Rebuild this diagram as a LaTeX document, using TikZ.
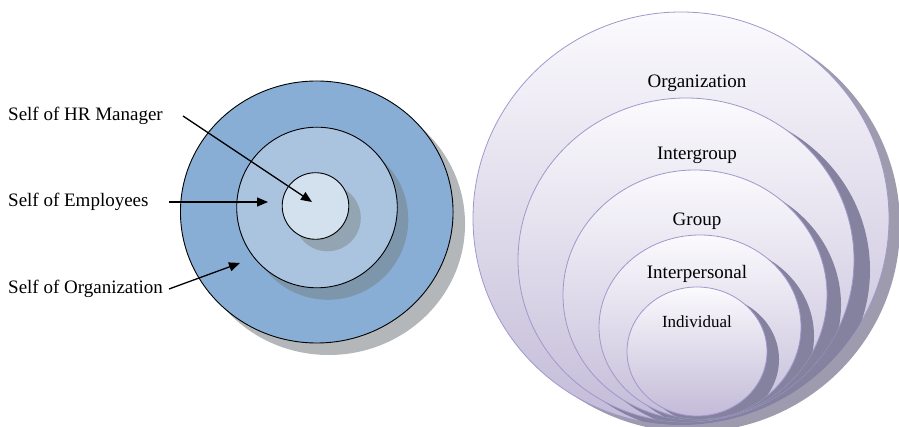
\documentclass[tikz,border=0pt]{standalone}
\usepackage{fontspec}
\setmainfont{Liberation Serif}
\usetikzlibrary{arrows.meta}
\definecolor{bOuter}{HTML}{88AED6}
\definecolor{bMid}{HTML}{AAC4DF}
\definecolor{bIn}{HTML}{D3E0EE}
\definecolor{sOuter}{HTML}{B4B7BA}
\definecolor{sMid}{HTML}{7E96AC}
\definecolor{sIn}{HTML}{93A5B3}
\definecolor{ringTop}{HTML}{FBFAFD}
\definecolor{ringBot}{HTML}{C3BBD8}
\definecolor{ringLine}{HTML}{A098CC}
\definecolor{cresc}{HTML}{84829E}
\definecolor{outShadow}{HTML}{9D9BAD}
\tikzset{
  lbl/.style={inner sep=0pt, font=\fontsize{19}{22}\selectfont},
  rlbl/.style={inner sep=0pt, anchor=base, font=\fontsize{19}{22}\selectfont},
  ptr/.style={line width=1.3pt, -{Triangle[length=11pt,width=9pt]}},
  bluering/.style={draw=black, line width=0.9pt},
  ring/.style={top color=ringTop, bottom color=ringBot, draw=ringLine, line width=0.8pt},
}
\begin{document}
\begin{tikzpicture}[x=1pt,y=-1pt]
\useasboundingbox (0,0) rectangle (899,427);
\clip (0,0) rectangle (899,427);
% ---------- left diagram ----------
\fill[sOuter] (328.75,224) ellipse [x radius=136.3pt, y radius=131pt];
\fill[bOuter] (316.75,212) ellipse [x radius=136.3pt, y radius=131pt];
\draw[bluering] (316.75,212) ellipse [x radius=136.3pt, y radius=131pt];
\begin{scope}
\clip (316.75,212) ellipse [x radius=136.3pt, y radius=131pt];
\fill[sMid] (328,219.5) circle [radius=80.3pt];
\end{scope}
\fill[bMid] (317,207.5) circle [radius=80.3pt];
\draw[bluering] (317,207.5) circle [radius=80.3pt];
\begin{scope}
\clip (317,207.5) circle [radius=80.3pt];
\fill[sIn] (327.5,218) circle [radius=33.3pt];
\end{scope}
\fill[bIn] (315.5,206) circle [radius=33.3pt];
\draw[bluering] (315.5,206) circle [radius=33.3pt];

\node[lbl, anchor=base west] (hr) at (8,121) {Self of HR Manager};
\node[lbl, anchor=base west] (emp) at (8,207) {Self of Employees};
\node[lbl, anchor=base west] (org) at (8,294) {Self of Organization};
\coordinate (hrS) at (183,116);
\coordinate (hrE) at (312,202);
\coordinate (empS) at (169,202);
\coordinate (empE) at (268,202);
\coordinate (orgS) at (169,289);
\coordinate (orgE) at (240,263);
\draw[ptr] (hrS) -- (hrE);
\draw[ptr] (empS) -- (empE);
\draw[ptr] (orgS) -- (orgE);

% ---------- right diagram ----------
\fill[outShadow] (692,225.5) ellipse [x radius=208pt, y radius=206.5pt];
\path[ring] (681,218.5) ellipse [x radius=208pt, y radius=206.5pt];
% Intergroup
\begin{scope}
\clip (681,218.5) ellipse [x radius=208pt, y radius=206.5pt];
\fill[cresc] (702,270) ellipse [x radius=168pt, y radius=162pt];
\end{scope}
\path[ring] (686,260) ellipse [x radius=168pt, y radius=162pt];
% Group
\begin{scope}
\clip (686,260) ellipse [x radius=168pt, y radius=162pt];
\fill[cresc] (709,305) ellipse [x radius=132pt, y radius=125pt];
\end{scope}
\path[ring] (695,295) ellipse [x radius=132pt, y radius=125pt];
% Interpersonal
\begin{scope}
\clip (695,295) ellipse [x radius=132pt, y radius=125pt];
\fill[cresc] (713,336) ellipse [x radius=101pt, y radius=92pt];
\end{scope}
\path[ring] (700,327) ellipse [x radius=101pt, y radius=92pt];
% Individual
\begin{scope}
\clip (700,327) ellipse [x radius=101pt, y radius=92pt];
\fill[cresc] (709,359.5) ellipse [x radius=70pt, y radius=64.5pt];
\end{scope}
\path[ring] (697,351.5) ellipse [x radius=70pt, y radius=64.5pt];

\node[rlbl] (tOrg) at (697,88) {Organization};
\node[rlbl] (tInter) at (697,160) {Intergroup};
\node[rlbl] (tGroup) at (697,226) {Group};
\node[rlbl] (tPers) at (697,279) {Interpersonal};
\node[rlbl, font=\fontsize{17}{20}\selectfont] (tInd) at (697,327) {Individual};
\end{tikzpicture}
\end{document}
